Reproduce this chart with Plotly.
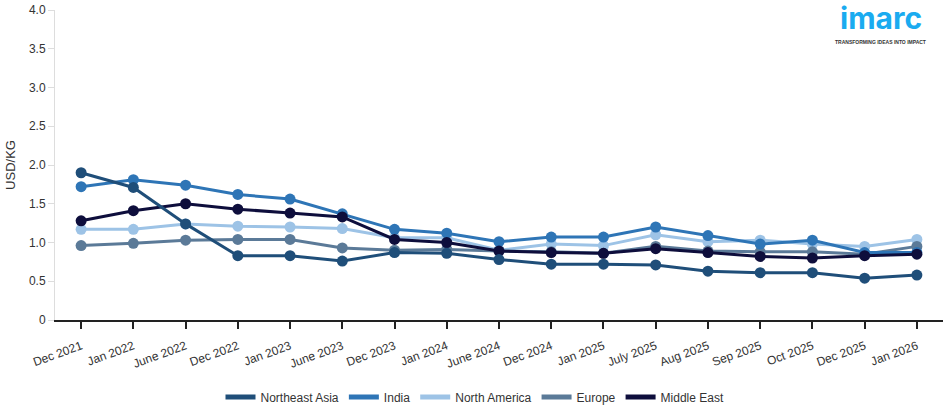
import plotly.graph_objects as go

categories = ["Dec 2021", "Jan 2022", "June 2022", "Dec 2022", "Jan 2023", "June 2023",
              "Dec 2023", "Jan 2024", "June 2024", "Dec 2024", "Jan 2025", "July 2025",
              "Aug 2025", "Sep 2025", "Oct 2025", "Dec 2025", "Jan 2026"]

northeast_asia = [1.90, 1.71, 1.24, 0.83, 0.83, 0.76, 0.87, 0.86, 0.78, 0.72, 0.72, 0.71,
                  0.63, 0.61, 0.61, 0.54, 0.58]
india = [1.72, 1.81, 1.74, 1.62, 1.56, 1.37, 1.17, 1.12, 1.01, 1.07, 1.07, 1.20,
         1.09, 0.98, 1.03, 0.87, 0.87]
north_america = [1.17, 1.17, 1.24, 1.21, 1.20, 1.18, 1.06, 1.06, 0.90, 0.98, 0.96, 1.10,
                 1.01, 1.03, 0.98, 0.95, 1.04]
europe = [0.96, 0.99, 1.03, 1.04, 1.04, 0.93, 0.90, 0.91, 0.89, 0.88, 0.86, 0.95,
          0.89, 0.88, 0.88, 0.85, 0.95]
middle_east = [1.28, 1.41, 1.50, 1.43, 1.38, 1.33, 1.04, 1.00, 0.89, 0.87, 0.86, 0.92,
               0.87, 0.82, 0.80, 0.83, 0.85]

y_tick_vals = [0, 0.5, 1.0, 1.5, 2.0, 2.5, 3.0, 3.5, 4.0]
y_tick_text = ["0", "0.5", "1.0", "1.5", "2.0", "2.5", "3.0", "3.5", "4.0"]

series = [
    ("Northeast Asia", northeast_asia, "#1f4e79"),
    ("India", india, "#2e75b6"),
    ("North America", north_america, "#9dc3e6"),
    ("Europe", europe, "#5b7a98"),
    ("Middle East", middle_east, "#0e0e3c"),
]

fig = go.Figure()
draw_order = ["North America", "Europe", "India", "Middle East", "Northeast Asia"]
lookup = {n: (v, c) for n, v, c in series}
for name in draw_order:
    vals, col = lookup[name]
    fig.add_trace(go.Scatter(
        x=categories, y=vals, mode="lines+markers", name=name,
        line=dict(color=col, width=3), marker=dict(color=col, size=11),
        showlegend=False, hoverinfo="x+y+name"))

for name, vals, col in series:
    fig.add_trace(go.Scatter(
        x=[None], y=[None], mode="lines", name=name,
        line=dict(color=col, width=5), showlegend=True))

fig.update_layout(
    width=950, height=414,
    margin=dict(l=55, r=7, t=10, b=94),
    paper_bgcolor="white", plot_bgcolor="white",
    font=dict(family="Liberation Sans, Arial, sans-serif", size=12, color="#333333"),
    showlegend=True,
    legend=dict(orientation="h", x=0.5, xanchor="center", xref="container",
                y=0.041, yanchor="middle", yref="container",
                itemwidth=30, font=dict(size=12, color="#333333"), tracegroupgap=0),
    xaxis=dict(type="category", categoryorder="array", categoryarray=categories,
               range=[-0.5, len(categories) - 0.5], automargin=False,
               showline=True, linecolor="#222222", linewidth=1.5,
               ticks="outside", ticklen=7, tickcolor="#222222", tickwidth=1.5,
               tickangle=-20, ticklabelstandoff=6, showgrid=False, zeroline=False,
               tickfont=dict(size=12, color="#333333")),
    yaxis=dict(range=[0, 4.0], tickvals=y_tick_vals, ticktext=y_tick_text,
               automargin=False,
               showline=True, linecolor="#dddddd", linewidth=1,
               ticks="outside", ticklen=6, tickcolor="#dddddd",
               showgrid=False, zeroline=False,
               title=dict(text="USD/KG", font=dict(size=13, color="#333333"), standoff=10),
               tickfont=dict(size=12, color="#333333")),
)

fig.add_annotation(xref="paper", yref="paper", x=0.930, y=0.913, xanchor="center", yanchor="bottom",
                   text="<b>imarc</b>", showarrow=False, borderpad=0,
                   font=dict(family="Inter, Roboto, sans-serif", size=30, color="#1aabf0"))
fig.add_annotation(xref="paper", yref="paper", x=0.930, y=0.909, xanchor="center", yanchor="top",
                   text="<b>TRANSFORMING IDEAS INTO IMPACT</b>", showarrow=False, borderpad=0,
                   font=dict(family="Liberation Sans, Arial, sans-serif", size=5, color="#333333"))

fig.write_html("out.html", config={"displayModeBar": False},
               post_script="document.body.style.margin='0';")
